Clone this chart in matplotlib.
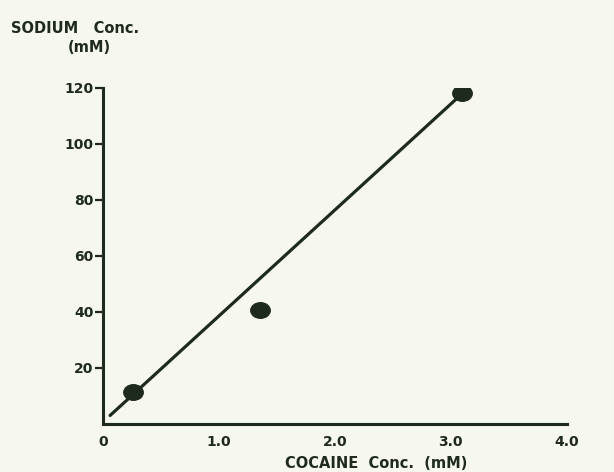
import matplotlib
matplotlib.use("Agg")
import matplotlib.pyplot as plt
import numpy as np
from matplotlib.path import Path

# Data
cocaine_mM = [0.26, 1.35, 3.1]
sodium_mM = [11.5, 40.5, 118]
fit_x = [0.06, 3.1]
fit_y = [3, 118]
x_ticks = [0, 1.0, 2.0, 3.0, 4.0]
x_tick_labels = ["0", "1.0", "2.0", "3.0", "4.0"]
y_ticks = [20, 40, 60, 80, 100, 120]
y_tick_labels = ["20", "40", "60", "80", "100", "120"]

ink = "#1f2a1f"
paper = "#f6f7ef"

# slightly flattened dot, as in the scanned original
uc = Path.unit_circle()
ellipse = Path(uc.vertices * np.array([1.0, 0.8]), uc.codes)

plt.rcParams['font.family'] = ['DejaVu Sans']
fig = plt.figure(figsize=(6.14, 4.72), dpi=100, facecolor=paper)
ax = fig.add_axes([0.168, 0.102, 0.755, 0.712])
ax.set_facecolor(paper)

ax.plot(fit_x, fit_y, color=ink, lw=2.3, solid_capstyle='round', zorder=2)
ax.plot(cocaine_mM, sodium_mM, linestyle='none', marker=ellipse, color=ink,
        markersize=14, zorder=3)

ax.set_xlim(0, 4.0)
ax.set_ylim(0, 120)
for s in ['top', 'right']:
    ax.spines[s].set_visible(False)
for s in ['left', 'bottom']:
    ax.spines[s].set_color(ink)
    ax.spines[s].set_linewidth(2.2)

ax.set_xticks(x_ticks)
ax.set_xticklabels(x_tick_labels)
ax.set_yticks(y_ticks)
ax.set_yticklabels(y_tick_labels)
ax.tick_params(axis='x', length=0, pad=8, labelsize=10, labelcolor=ink)
ax.tick_params(axis='y', length=6, width=1.6, color=ink, pad=1, labelsize=10, labelcolor=ink)
for lab in ax.get_xticklabels() + ax.get_yticklabels():
    lab.set_fontweight('bold')

ax.set_xlabel("COCAINE  Conc.  (mM)", fontsize=10.5, color=ink, fontweight='bold', labelpad=0)
ax.xaxis.set_label_coords(0.59, -0.095)
fig.text(0.018, 0.94, "SODIUM   Conc.", fontsize=10.5, color=ink, fontweight='bold',
         ha='left', va='center')
fig.text(0.145, 0.9, "(mM)", fontsize=10.5, color=ink, fontweight='bold',
         ha='center', va='center')

fig.savefig("out.png", dpi=100, facecolor=paper)
